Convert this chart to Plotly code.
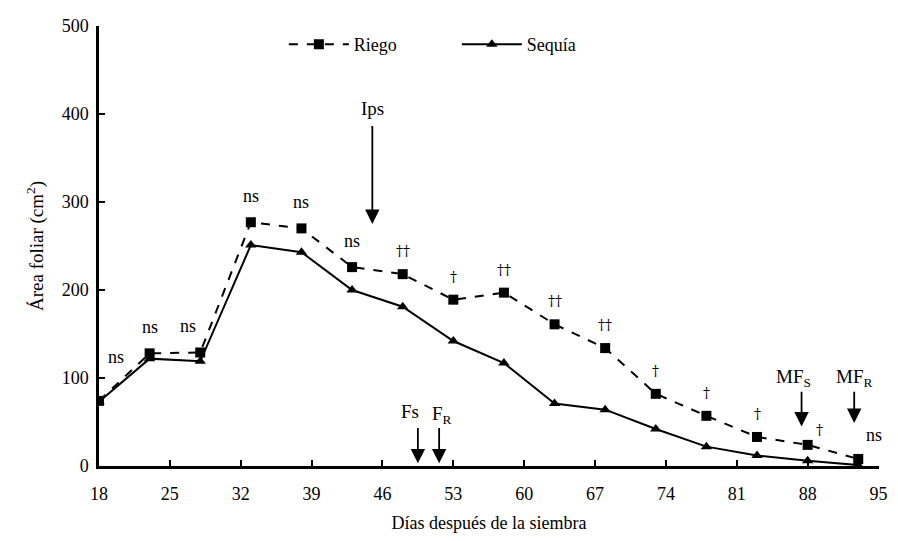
import plotly.graph_objects as go

# días después de la siembra
dias = [18, 23, 28, 33, 38, 43, 48, 53, 58, 63, 68, 73, 78, 83, 88, 93]
riego = [74, 128, 129, 277, 270, 226, 218, 189, 197, 161, 134, 82, 57, 33, 24, 8]
sequia = [73, 122, 119, 251, 243, 200, 181, 142, 117, 71, 64, 42, 22, 12, 6, 1]

# significancia por fecha
signif = ["ns", "ns", "ns", "ns", "ns", "ns", "\u2020\u2020", "\u2020", "\u2020\u2020", "\u2020\u2020",
          "\u2020\u2020", "\u2020", "\u2020", "\u2020", "\u2020", "ns"]

x_ticks = [18, 25, 32, 39, 46, 53, 60, 67, 74, 81, 88, 95]
y_ticks = [0, 100, 200, 300, 400, 500]

FONT = "Liberation Serif"
DAGA = "DejaVu Serif"

fig = go.Figure()

fig.add_trace(go.Scatter(
    x=dias, y=riego, name="Riego", mode="lines+markers",
    line=dict(color="black", width=2, dash="dash"),
    marker=dict(symbol="square", size=10, color="black"),
))
fig.add_trace(go.Scatter(
    x=dias, y=sequia, name="Sequía", mode="lines+markers",
    line=dict(color="black", width=2),
    marker=dict(symbol="triangle-up", size=10, color="black"),
))

# etiquetas de significancia sobre la serie Riego
for i, (d, r, s) in enumerate(zip(dias, riego, signif)):
    dx, dy = 0, 30
    if i == 0:
        dx, dy = 1.7, 50
    elif i == 2:
        dx, dy = -1.2, 30
    elif i == 14:
        dx, dy = 1.2, 17
    elif i == 15:
        dx, dy = 1.6, 27
    elif s != "ns":
        dy = 26
    fam = FONT if s == "ns" else DAGA
    fsize = 18 if s == "ns" else 14
    fig.add_annotation(x=d + dx, y=r + dy, text=s, showarrow=False,
                       font=dict(family=fam, size=fsize, color="black"))

# flechas de eventos fenológicos
flechas = [
    # (x, y_punta, y_cola, texto, x_texto, y_texto)
    (45, 275, 388, "Ips", 45, 406),
    (49.5, 3, 45, "Fs", 48.7, 62),
    (51.6, 3, 45, "F<sub>R</sub>", 51.9, 58),
    (87.4, 45, 86, "MF<sub>S</sub>", 86.6, 100),
    (92.6, 49, 86, "MF<sub>R</sub>", 92.6, 100),
]
for x, yh, yt, txt, xt, yt2 in flechas:
    fig.add_annotation(x=x, y=yh, ax=x, ay=yt, axref="x", ayref="y",
                       text="", showarrow=True, arrowhead=2, arrowsize=1.6,
                       arrowwidth=1.8, arrowcolor="black")
    fig.add_annotation(x=xt, y=yt2, text=txt, showarrow=False,
                       font=dict(family=FONT, size=19, color="black"))

# la página añade 8 px de margen, se compensa aquí
fig.update_layout(
    width=890, height=525,
    margin=dict(l=91, r=19, t=18, b=67, autoexpand=False),
    plot_bgcolor="white", paper_bgcolor="white",
    font=dict(family=FONT, size=18, color="black"),
    showlegend=True,
    legend=dict(orientation="h", x=0.237, y=1.0, xanchor="left", yanchor="top",
                font=dict(family=FONT, size=18), bgcolor="rgba(0,0,0,0)",
                entrywidth=98, entrywidthmode="pixels", itemwidth=60),
)
fig.update_xaxes(
    range=[18, 95.05], tickvals=x_ticks, ticks="inside", ticklen=6, tickwidth=2,
    tickcolor="black", showline=True, linecolor="black", linewidth=2.5,
    showgrid=False, zeroline=False, tickfont=dict(family=FONT, size=18),
    ticklabelstandoff=10, ticklabeloverflow="allow", automargin=False,
    title=dict(text="Días después de la siembra", font=dict(family=FONT, size=18), standoff=14),
)
fig.update_yaxes(
    range=[0, 500], tickvals=y_ticks, ticks="inside", ticklen=6, tickwidth=2,
    tickcolor="black", showline=True, linecolor="black", linewidth=2.5,
    showgrid=False, zeroline=False, tickfont=dict(family=FONT, size=18),
    ticklabelstandoff=4, automargin=False,
    title=dict(text="Área foliar (cm<sup>2</sup>)", font=dict(family=FONT, size=19), standoff=14),
)

fig.write_html("out.html")
